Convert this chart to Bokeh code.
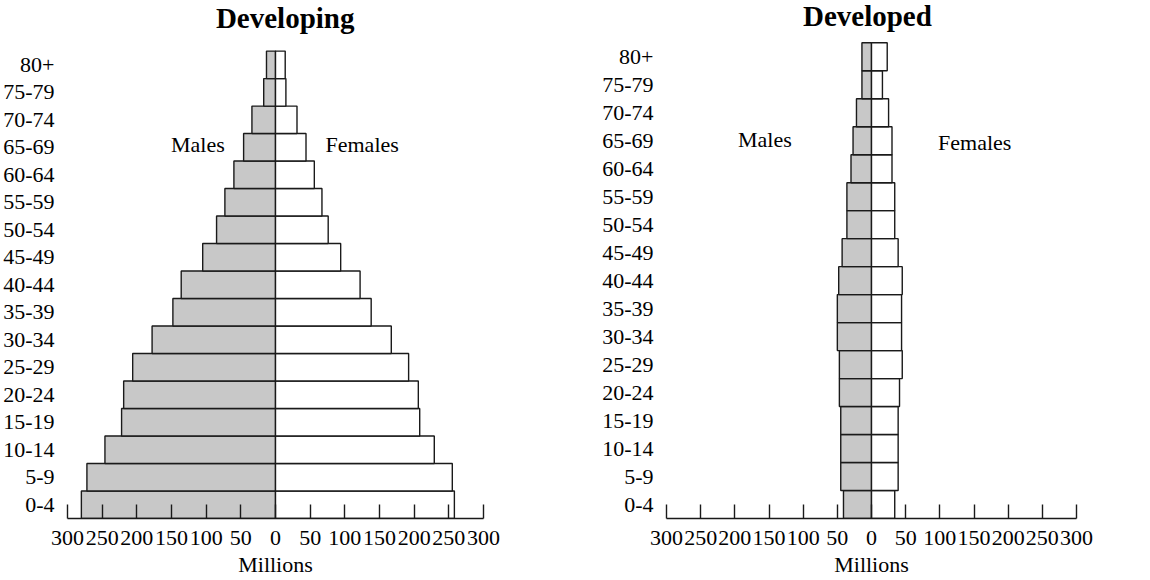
from bokeh.plotting import figure
from bokeh.layouts import row
from bokeh.models import FixedTicker, ColumnDataSource
from bokeh.core.properties import value
from bokeh.embed import file_html
from bokeh.resources import INLINE

# ---------------- data ----------------
ages = ["0-4", "5-9", "10-14", "15-19", "20-24", "25-29", "30-34", "35-39", "40-44",
        "45-49", "50-54", "55-59", "60-64", "65-69", "70-74", "75-79", "80+"]
developing_males = [280, 272, 246, 222, 219, 206, 178, 148, 136, 105, 85, 73, 60, 46, 34, 17, 13]
developing_females = [258, 255, 229, 208, 206, 192, 167, 138, 122, 94, 76, 67, 56, 44, 31, 15, 14]
developed_males = [41, 45, 45, 45, 47, 47, 50, 50, 48, 43, 36, 36, 30, 27, 22, 14, 14]
developed_females = [34, 39, 39, 39, 41, 45, 44, 44, 45, 39, 34, 34, 30, 30, 25, 16, 23]
x_ticks = [-300, -250, -200, -150, -100, -50, 0, 50, 100, 150, 200, 250, 300]
x_label = "Millions"

FONT = "Liberation Serif"
GRAY = "#c8c8c8"
LINE = "#1a1a1a"


def pyramid(title, males, females, ytop, border_left, frame_width, border_right,
            title_x, title_y, males_xy, females_xy, ylab_standoff):
    n = len(ages)
    p = figure(frame_width=frame_width, frame_height=518,
               x_range=(-300, 300), y_range=(0, ytop),
               output_backend="svg", toolbar_location=None,
               min_border_left=border_left, min_border_right=border_right,
               min_border_top=0, min_border_bottom=40)
    p.outline_line_color = None
    p.xgrid.visible = False
    p.ygrid.visible = False
    p.background_fill_color = "white"
    p.border_fill_color = "white"

    ys = [i + 0.5 for i in range(n)]
    src = ColumnDataSource(dict(y=ys, m=[-v for v in males], f=females))
    p.hbar(y="y", left="m", right=0, height=1, source=src,
           fill_color=GRAY, line_color=LINE, line_width=1.4)
    p.hbar(y="y", left=0, right="f", height=1, source=src,
           fill_color="white", line_color=LINE, line_width=1.4)

    # x axis
    xa = p.xaxis[0]
    xa.ticker = FixedTicker(ticks=x_ticks)
    xa.major_label_overrides = {t: str(abs(t)) for t in x_ticks}
    xa.minor_tick_line_color = None
    xa.major_tick_in = 14
    xa.major_tick_out = 0
    xa.major_tick_line_color = LINE
    xa.major_tick_line_width = 1.4
    xa.axis_line_color = LINE
    xa.axis_line_width = 1.4
    xa.major_label_text_font = FONT
    xa.major_label_text_font_size = "22px"
    xa.major_label_text_color = "black"
    xa.major_label_standoff = 12
    xa.axis_label = x_label
    xa.axis_label_text_font = FONT
    xa.axis_label_text_font_size = "22px"
    xa.axis_label_text_font_style = "normal"
    xa.axis_label_text_color = "black"
    xa.axis_label_standoff = 4

    # y axis (age labels only)
    ya = p.yaxis[0]
    ya.ticker = FixedTicker(ticks=ys)
    ya.major_label_overrides = {y: a for y, a in zip(ys, ages)}
    ya.axis_line_color = None
    ya.major_tick_line_color = None
    ya.minor_tick_line_color = None
    ya.major_label_text_font = FONT
    ya.major_label_text_font_size = "22px"
    ya.major_label_text_color = "black"
    ya.major_label_standoff = ylab_standoff

    # title and side labels
    p.text(x=[title_x], y=[title_y], text=[title], text_font=value(FONT),
           text_font_size="29px", text_font_style="bold", text_align="center",
           text_baseline="middle", text_color="black")
    p.text(x=[males_xy[0]], y=[males_xy[1]], text=["Males"], text_font=value(FONT),
           text_font_size="22px", text_align="center", text_baseline="middle",
           text_color="black")
    p.text(x=[females_xy[0]], y=[females_xy[1]], text=["Females"], text_font=value(FONT),
           text_font_size="22px", text_align="center", text_baseline="middle",
           text_color="black")
    return p


p1 = pyramid("Developing", developing_males, developing_females, 18.84,
             61, 416, 75, 14, 18.19, (-112, 13.6), (125, 13.6), 7)
p2 = pyramid("Developed", developed_males, developed_females, 18.51,
             108, 410, 20, -6, 17.94, (-156, 13.55), (151, 13.44), 7)

layout = row(p1, p2)
open("out.html", "w").write(file_html(layout, INLINE))
